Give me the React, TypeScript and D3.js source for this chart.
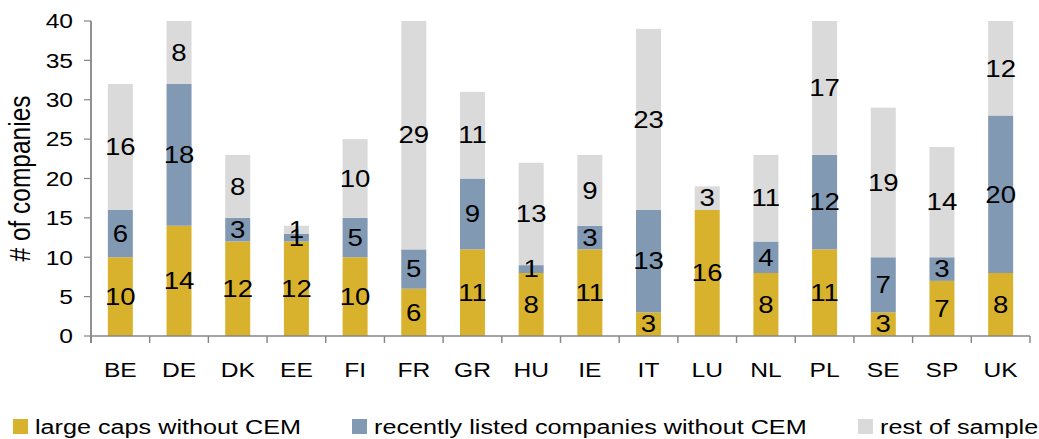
import React from 'react';
import * as d3 from 'd3';

const categories = ['BE', 'DE', 'DK', 'EE', 'FI', 'FR', 'GR', 'HU', 'IE', 'IT', 'LU', 'NL', 'PL', 'SE', 'SP', 'UK'];
const largeCaps = [10, 14, 12, 12, 10, 6, 11, 8, 11, 3, 16, 8, 11, 3, 7, 8];
const recentlyListed = [6, 18, 3, 1, 5, 5, 9, 1, 3, 13, 0, 4, 12, 7, 3, 20];
const restOfSample = [16, 8, 8, 1, 10, 29, 11, 13, 9, 23, 3, 11, 17, 19, 14, 12];
const yTicks = [0, 5, 10, 15, 20, 25, 30, 35, 40];
const seriesNames = ['large caps without CEM', 'recently listed companies without CEM', 'rest of sample'];
const seriesColors = ['#D8B22C', '#8299B4', '#DADADA'];
const yTitle = '# of companies';

const W = 1039;
const H = 439;
const S = 1.2; // horizontal stretch of the reference rendering
const VW = W / S;
const hx = (px: number) => px / S;

const FONT = 'Arial, "Liberation Sans", sans-serif';

export default function App() {
  const keys = ['a', 'b', 'c'];
  const rows = categories.map((c, i) => ({ cat: c, a: largeCaps[i], b: recentlyListed[i], c: restOfSample[i] }));
  const stacked = d3.stack<any>().keys(keys)(rows);

  const x = d3
    .scaleBand<string>()
    .domain(categories)
    .range([hx(91), hx(1030)])
    .paddingInner(0.574)
    .paddingOuter(0.287);
  const y = d3.scaleLinear().domain([0, 40]).range([336, 21]);
  const step = x.step();
  const axisColor = '#868686';
  const tickLen = 7;

  const boundaries = d3.range(categories.length + 1).map((i) => x.range()[0] + i * step);
  const legendX = [13, 352, 858];

  return (
    <svg
      width={W}
      height={H}
      viewBox={`0 0 ${VW} ${H}`}
      preserveAspectRatio="none"
      style={{ position: 'absolute', left: 0, top: 0, background: '#fff' }}
      fontFamily={FONT}
    >
      {stacked.map((layer, si) => (
        <g key={si}>
          {layer.map((d, i) => {
            const v = d[1] - d[0];
            if (v <= 0) return null;
            const cat = categories[i];
            return (
              <rect
                key={cat}
                x={x(cat)}
                y={y(d[1])}
                width={x.bandwidth()}
                height={y(d[0]) - y(d[1])}
                fill={seriesColors[si]}
              />
            );
          })}
        </g>
      ))}
      {stacked.map((layer, si) => (
        <g key={'l' + si}>
          {layer.map((d, i) => {
            const v = d[1] - d[0];
            if (v <= 0) return null;
            const cat = categories[i];
            return (
              <text
                key={cat}
                x={(x(cat) as number) + x.bandwidth() / 2}
                y={y((d[0] + d[1]) / 2)}
                dy="0.36em"
                textAnchor="middle"
                fontSize={23}
                fill="#000"
              >
                {v}
              </text>
            );
          })}
        </g>
      ))}
      {/* y axis */}
      <line x1={hx(91)} x2={hx(91)} y1={y(40)} y2={y(0) + tickLen} stroke={axisColor} strokeWidth={1.5} />
      {yTicks.map((t) => (
        <g key={t}>
          <line x1={hx(91) - hx(tickLen)} x2={hx(91)} y1={y(t)} y2={y(t)} stroke={axisColor} strokeWidth={1.2} />
          <text x={hx(73)} y={y(t)} dy="0.36em" textAnchor="end" fontSize={20.5} fill="#000">
            {t}
          </text>
        </g>
      ))}
      {/* x axis */}
      <line x1={hx(91)} x2={boundaries[boundaries.length - 1]} y1={y(0)} y2={y(0)} stroke={axisColor} strokeWidth={1.5} />
      {boundaries.map((b, i) => (
        <line key={i} x1={b} x2={b} y1={y(0)} y2={y(0) + tickLen} stroke={axisColor} strokeWidth={1.2} />
      ))}
      {categories.map((c) => (
        <text key={c} x={(x(c) as number) + x.bandwidth() / 2} y={377} textAnchor="middle" fontSize={20.5} fill="#000">
          {c}
        </text>
      ))}
      {/* y title */}
      <text
        transform={`translate(${hx(30)},${(y(0) + y(40)) / 2}) rotate(-90)`}
        textAnchor="middle"
        fontSize={24.5}
        fill="#000"
      >
        {yTitle}
      </text>
      {/* legend */}
      {seriesNames.map((n, i) => (
        <g key={n}>
          <rect x={hx(legendX[i])} y={419} width={hx(15)} height={15} fill={seriesColors[i]} />
          <text x={hx(legendX[i] + 22)} y={434} fontSize={21} fill="#000">
            {n}
          </text>
        </g>
      ))}
    </svg>
  );
}
